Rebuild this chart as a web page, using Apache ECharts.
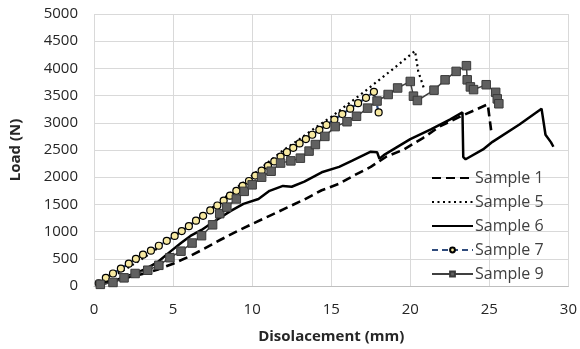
<!DOCTYPE html>
<html>
<head>
<meta charset="utf-8">
<script src="https://cdn.jsdelivr.net/npm/echarts@6/dist/echarts.min.js"></script>
<style>html,body{margin:0;padding:0;background:#fff}#c{width:580px;height:349px}</style>
</head>
<body>
<div id="c"></div>
<script>
const xTicks = [0, 5, 10, 15, 20, 25, 30];
const yTicks = [0, 500, 1000, 1500, 2000, 2500, 3000, 3500, 4000, 4500, 5000];
const seriesNames = ['Sample 1', 'Sample 5', 'Sample 6', 'Sample 7', 'Sample 9'];

const s1x = [0.3, 1.4, 2.3, 3.2, 4.1, 5.0, 6.0, 7.0, 8.0, 9.0, 10.0, 11.1, 12.2, 13.3, 14.4, 15.5, 16.5, 17.5, 18.5, 19.6, 20.8, 21.9, 23.2, 24.9, 25.05, 25.15];
const s1y = [20, 100, 170, 230, 310, 410, 540, 690, 850, 1000, 1140, 1290, 1440, 1590, 1760, 1880, 2040, 2190, 2380, 2510, 2720, 2940, 3120, 3340, 3000, 2780];

const s5x = [0.3, 1.0, 2.0, 3.0, 4.0, 5.0, 6.0, 7.0, 8.0, 9.0, 10.0, 11.0, 12.0, 13.0, 14.0, 15.0, 16.0, 17.0, 18.0, 19.0, 20.3, 20.5, 20.9];
const s5y = [30, 150, 310, 490, 690, 900, 1100, 1330, 1560, 1800, 2030, 2270, 2500, 2700, 2910, 3110, 3330, 3550, 3780, 4010, 4320, 3950, 3600];

const s6x = [0.3, 1.5, 2.5, 3.3, 4.05, 4.9, 5.5, 6.1, 6.8, 7.4, 8.0, 8.65, 9.45, 10.4, 11.1, 11.95, 12.5, 13.3, 14.4, 15.5, 16.3, 17.5, 17.9, 18.05, 18.4, 20.0, 21.3, 22.5, 23.3, 23.35, 23.5, 24.6, 25.2, 26.9, 28.3, 28.55, 28.9, 29.05];
const s6y = [30, 120, 220, 320, 445, 650, 790, 920, 1030, 1150, 1260, 1380, 1510, 1600, 1750, 1840, 1825, 1920, 2090, 2190, 2300, 2470, 2460, 2340, 2420, 2700, 2880, 3060, 3190, 2370, 2330, 2510, 2650, 2970, 3260, 2780, 2640, 2560];

const s7x = [0.3, 0.75, 1.2, 1.7, 2.2, 2.65, 3.1, 3.6, 4.1, 4.6, 5.1, 5.55, 6.0, 6.45, 6.9, 7.35, 7.8, 8.2, 8.6, 9.0, 9.4, 9.8, 10.2, 10.6, 11.0, 11.4, 11.8, 12.2, 12.6, 13.0, 13.4, 13.8, 14.25, 14.7, 15.2, 15.7, 16.2, 16.7, 17.2, 17.7, 18.0];
const s7y = [50, 150, 230, 320, 410, 500, 575, 650, 740, 830, 920, 1010, 1100, 1200, 1290, 1390, 1480, 1570, 1660, 1750, 1840, 1930, 2030, 2120, 2210, 2290, 2380, 2460, 2540, 2620, 2700, 2780, 2870, 2960, 3060, 3160, 3260, 3360, 3460, 3570, 3190];

const s9x = [0.4, 1.2, 1.9, 2.6, 3.4, 4.1, 4.8, 5.5, 6.2, 6.8, 7.5, 7.95, 8.4, 9.0, 9.5, 10.0, 10.6, 11.2, 11.8, 12.45, 13.05, 13.6, 14.0, 14.6, 15.25, 16.0, 16.6, 17.3, 17.9, 18.6, 19.2, 20.0, 20.2, 20.45, 21.5, 22.2, 22.9, 23.55, 23.6, 23.8, 24.0, 24.8, 25.4, 25.5, 25.6];
const s9y = [30, 65, 150, 230, 290, 380, 520, 640, 790, 925, 1125, 1330, 1450, 1600, 1740, 1860, 2000, 2110, 2260, 2300, 2350, 2480, 2600, 2750, 2930, 3020, 3120, 3270, 3400, 3520, 3640, 3760, 3490, 3410, 3600, 3790, 3945, 4050, 3790, 3660, 3610, 3700, 3560, 3440, 3350];

function zip(xs, ys) { return xs.map((x, i) => [x, ys[i]]); }

const font = '"Open Sans", "Liberation Sans", sans-serif';
const hidden = { color: 'rgba(0,0,0,0)', borderColor: 'rgba(0,0,0,0)', borderWidth: 0 };
const chart = echarts.init(document.getElementById('c'));
chart.setOption({
  animation: false,
  backgroundColor: '#ffffff',
  grid: { left: 88, right: 10, top: 14, bottom: 61.5 },
  legend: {
    orient: 'vertical',
    left: 426,
    top: 165,
    itemWidth: 41,
    itemHeight: 6,
    itemGap: 8,
    textStyle: { fontFamily: font, fontSize: 16, color: '#404040', padding: [0, 0, 0, -3] },
    data: [
      { name: 'Sample 1', itemStyle: hidden },
      { name: 'Sample 5', itemStyle: hidden },
      { name: 'Sample 6', itemStyle: hidden },
      { name: 'Sample 7' },
      { name: 'Sample 9' }
    ]
  },
  xAxis: {
    type: 'value', min: 0, max: 30, interval: 5,
    name: 'Disolacement (mm)', nameLocation: 'middle', nameGap: 43,
    nameTextStyle: { fontFamily: font, fontSize: 15, fontWeight: 'bold', color: '#262626' },
    axisLine: { show: true, lineStyle: { color: '#bfbfbf', width: 1 } },
    axisTick: { show: false },
    axisLabel: { fontFamily: font, fontSize: 15, color: '#262626', margin: 16,
      formatter: v => xTicks.includes(v) ? String(v) : '' },
    splitLine: { show: true, lineStyle: { color: '#d9d9d9', width: 1 } }
  },
  yAxis: {
    type: 'value', min: 0, max: 5000, interval: 500,
    name: 'Load (N)', nameLocation: 'middle', nameGap: 71, nameRotate: 90,
    nameTextStyle: { fontFamily: font, fontSize: 15, fontWeight: 'bold', color: '#262626' },
    axisLine: { show: false },
    axisTick: { show: false },
    axisLabel: { fontFamily: font, fontSize: 15, color: '#262626', margin: 16,
      formatter: v => yTicks.includes(v) ? String(v) : '' },
    splitLine: { show: true, lineStyle: { color: '#d9d9d9', width: 1 } }
  },
  series: [
    { name: 'Sample 1', type: 'line', data: zip(s1x, s1y), showSymbol: false, symbol: 'none',
      lineStyle: { color: '#000', width: 2.6, type: [9, 5] }, itemStyle: { color: '#000' } },
    { name: 'Sample 5', type: 'line', data: zip(s5x, s5y), showSymbol: false, symbol: 'none',
      lineStyle: { color: '#000', width: 2.2, type: [2, 3.5] }, itemStyle: { color: '#000' } },
    { name: 'Sample 6', type: 'line', data: zip(s6x, s6y), showSymbol: false, symbol: 'none',
      lineStyle: { color: '#000', width: 2.5 }, itemStyle: { color: '#000' } },
    { name: 'Sample 7', type: 'line', data: zip(s7x, s7y), symbol: 'circle', symbolSize: 7,
      lineStyle: { color: '#2f4b7c', width: 2.2, type: [6, 4] },
      itemStyle: { color: '#f7e9a1', borderColor: '#000', borderWidth: 1.2 } },
    { name: 'Sample 9', type: 'line', data: zip(s9x, s9y), symbol: 'rect', symbolSize: 8.5,
      lineStyle: { color: '#404040', width: 1.5 },
      itemStyle: { color: '#606060', borderColor: '#3a3a3a', borderWidth: 1 } }
  ]
});
</script>
</body>
</html>
